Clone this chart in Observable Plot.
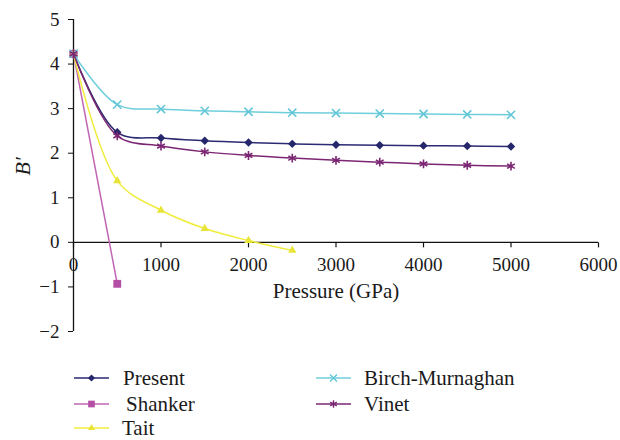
<!DOCTYPE html>
<html><head><meta charset="utf-8">
<script src="https://cdn.jsdelivr.net/npm/d3@7"></script>
<script src="https://cdn.jsdelivr.net/npm/@observablehq/plot@0.6"></script>
<style>
body{margin:0;background:#fff;font-family:"Liberation Serif",serif;}
#wrap{position:relative;width:620px;height:440px;overflow:hidden;}
#legend{position:relative;width:620px;height:85px;}
.leg{position:absolute;height:20px;line-height:20px;display:flex;align-items:center;font-size:21px;color:#1a1a1a;white-space:nowrap;font-family:"Liberation Serif",serif;}
.leg svg{display:block;}
</style></head><body>
<div id="wrap"><div id="chart"></div><div id="legend"></div></div>
<script>
// ---- data ----
const pressure = [0, 500, 1000, 1500, 2000, 2500, 3000, 3500, 4000, 4500, 5000];
const present = [4.23, 2.47, 2.34, 2.28, 2.24, 2.21, 2.19, 2.18, 2.17, 2.16, 2.15];
const shanker = [4.23, -0.93];
const tait = [4.23, 1.38, 0.72, 0.31, 0.04, -0.18];
const birch = [4.23, 3.09, 2.99, 2.95, 2.93, 2.91, 2.90, 2.89, 2.88, 2.87, 2.86];
const vinet = [4.23, 2.39, 2.16, 2.03, 1.95, 1.89, 1.84, 1.80, 1.76, 1.73, 1.71];
const seriesNames = ["Present", "Shanker", "Tait", "Birch-Murnaghan", "Vinet"];
const seriesValues = [present, shanker, tait, birch, vinet];
const xTicks = [0, 1000, 2000, 3000, 4000, 5000, 6000];
const yTicks = [-2, -1, 0, 1, 2, 3, 4, 5];

// ---- styles ----
const FONT = "'Liberation Serif', serif";
const styles = {
  "Present": {line: "#2b2a72", color: "#26266b", symbol: "diamond2", r: 3.8, filled: true},
  "Shanker": {line: "#c065b4", color: "#b44fa6", symbol: "square2", r: 5, filled: true},
  "Tait": {line: "#f0ec3a", color: "#e9e43a", symbol: "triangle2", r: 4, filled: true},
  "Birch-Murnaghan": {line: "#6fcedb", color: "#62c6d6", symbol: "times", r: 3.8, filled: false},
  "Vinet": {line: "#7b2672", color: "#7b2672", symbol: "asterisk", r: 4.2, filled: false}
};

const rows = [];
seriesNames.forEach((name, i) => {
  seriesValues[i].forEach((v, j) => rows.push({series: name, p: pressure[j], b: v}));
});

const tickSym = {draw(ctx) { ctx.moveTo(0, 0); ctx.lineTo(0, 5); }};
const fmt = d => (d < 0 ? "\u2212" + (-d) : String(d));

const marks = [
  Plot.ruleX([0], {stroke: "#111", strokeWidth: 1.3}),
  Plot.axisY({ticks: yTicks, tickSize: 5, tickPadding: 9, tickFormat: fmt, label: null, fontSize: 19, stroke: "#111", fontFamily: FONT}),
  Plot.ruleY([0], {x1: 0, x2: 6000, stroke: "#111", strokeWidth: 1.3}),
  Plot.dot(xTicks, {x: d => d, y: 0, symbol: tickSym, stroke: "#111", fill: "none", strokeWidth: 1.2}),
  Plot.text(xTicks, {x: d => d, y: 0, dy: 23, text: d => String(d), fontSize: 19, fontFamily: FONT, fill: "#1a1a1a"}),
  Plot.text(["Pressure (GPa)"], {frameAnchor: "bottom", dy: -34, text: d => d, fontSize: 21, fontFamily: FONT, fill: "#1a1a1a"}),
  Plot.text(["B′"], {frameAnchor: "left", rotate: -90, dx: -51, text: d => d, fontSize: 22, fontFamily: FONT, fontStyle: "italic", fill: "#1a1a1a"})
];

seriesNames.forEach(name => {
  const s = styles[name];
  const data = rows.filter(d => d.series === name);
  marks.push(Plot.line(data, {x: "p", y: "b", stroke: s.line, strokeWidth: 1.5, curve: "catmull-rom"}));
  marks.push(Plot.dot(data, s.filled
    ? {x: "p", y: "b", symbol: s.symbol, r: s.r, fill: s.color, stroke: "none"}
    : {x: "p", y: "b", symbol: s.symbol, r: s.r, fill: "none", stroke: s.color, strokeWidth: 1.6}));
});

const chart = Plot.plot({
  width: 620,
  height: 355,
  marginLeft: 73,
  marginRight: 22,
  marginTop: 19,
  marginBottom: 24,
  style: {fontFamily: FONT, fontSize: "19px", color: "#1a1a1a", background: "#fff"},
  x: {domain: [0, 6000], axis: null},
  y: {domain: [-2, 5]},
  marks
});
document.getElementById("chart").appendChild(chart);

// ---- legend ----
const symMap = {diamond2: d3.symbolDiamond2, square2: d3.symbolSquare2, triangle2: d3.symbolTriangle2, times: d3.symbolTimes, asterisk: d3.symbolAsterisk};
const legendPos = [
  {name: "Present", left: 74, top: 378, gap: 13},
  {name: "Shanker", left: 74, top: 404, gap: 16},
  {name: "Tait", left: 74, top: 428, gap: 12},
  {name: "Birch-Murnaghan", left: 316, top: 378, gap: 12},
  {name: "Vinet", left: 316, top: 404, gap: 12}
];
const legend = d3.select("#legend");
legendPos.forEach(it => {
  const s = styles[it.name];
  const div = legend.append("div").attr("class", "leg")
    .style("left", it.left + "px").style("top", (it.top - 355 - 10) + "px");
  const svg = div.append("svg").attr("width", 36).attr("height", 20);
  svg.append("line").attr("x1", 0).attr("x2", 35).attr("y1", 10).attr("y2", 10)
    .attr("stroke", s.line).attr("stroke-width", 1.6);
  const size = Math.PI * (s.r * 0.85) ** 2;
  const p = svg.append("path").attr("transform", "translate(17.5,10)")
    .attr("d", d3.symbol(symMap[s.symbol], size)());
  if (s.filled) p.attr("fill", s.color); else p.attr("fill", "none").attr("stroke", s.color).attr("stroke-width", 1.4);
  div.append("span").style("margin-left", it.gap + "px").text(it.name);
});
</script>
</body></html>
